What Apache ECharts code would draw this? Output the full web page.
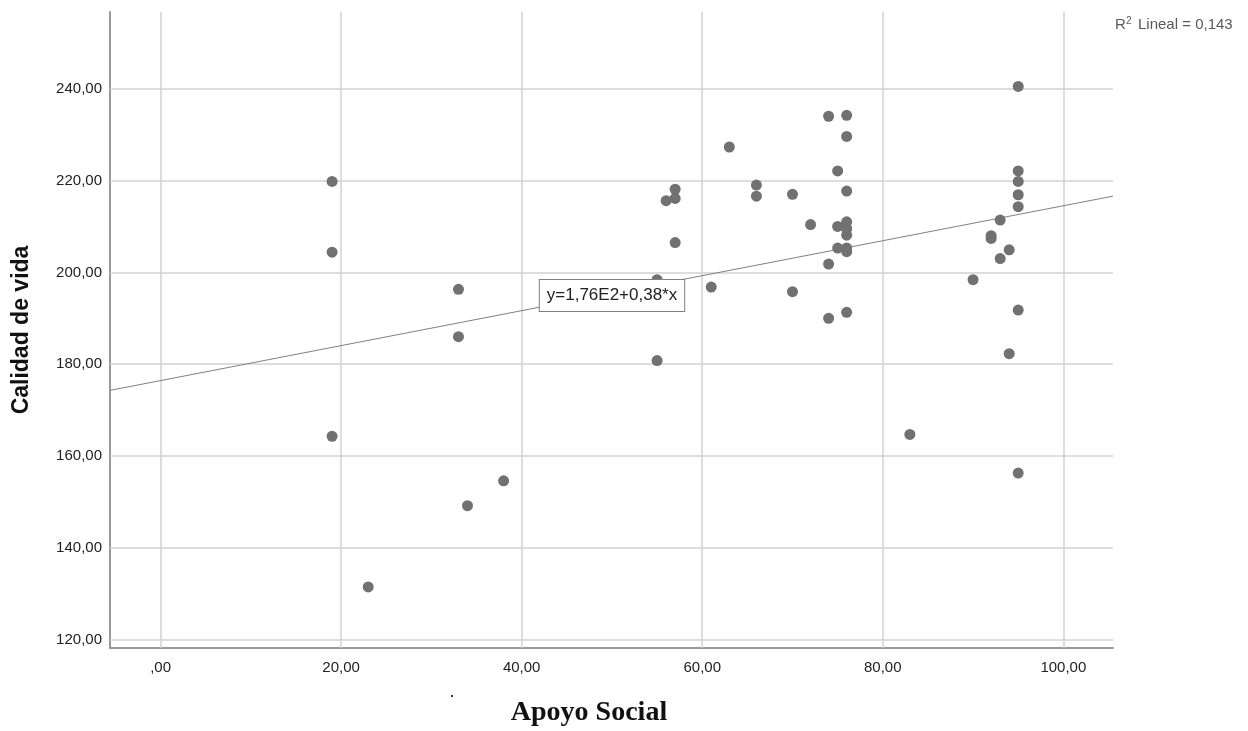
<!DOCTYPE html>
<html><head><meta charset="utf-8">
<script src="https://cdn.jsdelivr.net/npm/echarts@6/dist/echarts.min.js"></script>
<style>html,body{margin:0;padding:0;background:#fff}#c{width:1248px;height:731px}</style>
</head><body><div id="c"></div>
<script>
// Apoyo Social (x) and Calidad de vida (y)
const apoyoSocial = [19,19,19,23,33,33,34,38,
  55,55,56,57,57,57,61,63,
  66,66,70,70,72,
  74,74,74,
  75,75,75,
  76,76,76,76,76,76,76,76,76,
  83,90,92,92,93,93,94,94,
  95,95,95,95,95,95,95];
const calidadVida = [219.8,204.4,164.3,131.5,196.3,186.0,149.2,154.6,
  180.8,198.4,215.6,218.1,216.1,206.5,196.8,227.3,
  219.0,216.6,217.0,195.8,210.4,
  234.0,201.8,190.0,
  222.1,210.0,205.3,
  234.2,229.6,217.7,211.0,209.5,208.1,205.3,204.5,191.3,
  164.7,198.4,208.0,207.4,211.4,203.0,204.9,182.3,
  240.5,222.1,219.8,216.9,214.3,191.8,156.3];
// Fit line end points
const fitLineX = [-5.6, 105.5];
const fitLineY = [174.3, 216.6];
// Ticks
const xTicks = [0,20,40,60,80,100];
const xTickLabels = [',00','20,00','40,00','60,00','80,00','100,00'];
const yTicks = [120,140,160,180,200,220,240];
const yTickLabels = ['120,00','140,00','160,00','180,00','200,00','220,00','240,00'];
const xRange = [-5.6, 105.5];
const yRange = [118.2, 256.7];

const FONT = '"Liberation Sans", Arial, sans-serif';
function lab(ticks, labels){
  return function(v){
    for (let i=0;i<ticks.length;i++){ if (Math.abs(ticks[i]-v) < 1e-6) return labels[i]; }
    return '';
  };
}
const points = apoyoSocial.map((x,i)=>[x, calidadVida[i]]);
const gridColor = '#d2d2d2';

const chart = echarts.init(document.getElementById('c'), null, {renderer:'canvas'});
chart.setOption({
  animation: false,
  backgroundColor: '#fff',
  grid: {left: 110, right: 135, top: 12, bottom: 83, containLabel: false},
  xAxis: {
    type: 'value', min: xRange[0], max: xRange[1],
    axisLine: {show: true, onZero: false, lineStyle: {color: '#999', width: 2}},
    axisTick: {show: false},
    splitLine: {show: false},
    axisLabel: {customValues: xTicks, formatter: lab(xTicks, xTickLabels), margin: 12,
      color: '#222', fontSize: 15, fontFamily: FONT, showMinLabel: true, showMaxLabel: true}
  },
  yAxis: {
    type: 'value', min: yRange[0], max: yRange[1],
    axisLine: {show: true, onZero: false, lineStyle: {color: '#999', width: 2}},
    axisTick: {show: false},
    splitLine: {show: false},
    axisLabel: {customValues: yTicks, formatter: lab(yTicks, yTickLabels), margin: 8,
      padding: [4,0,0,0],
      color: '#222', fontSize: 15, fontFamily: FONT}
  },
  series: [
    {
      type: 'line', data: [], silent: true, z: 1,
      markLine: {
        silent: true, z: 1, symbol: ['none','none'], animation: false,
        label: {show: false},
        lineStyle: {color: gridColor, width: 1.5, type: 'solid'},
        emphasis: {disabled: true},
        data: xTicks.map(v=>({xAxis: v})).concat(yTicks.map(v=>({yAxis: v})))
      }
    },
    {
      type: 'line', z: 2, silent: true, symbol: 'none',
      data: fitLineX.map((x,i)=>[x, fitLineY[i]]),
      lineStyle: {color: '#808080', width: 1}
    },
    {
      type: 'scatter', z: 10, symbol: 'circle', symbolSize: 11,
      itemStyle: {color: '#717171', opacity: 1},
      data: points
    }
  ],
  graphic: [
    {type: 'text', x: 22, y: 330, rotation: Math.PI/2, z: 100,
      style: {text: 'Calidad de vida', font: 'bold 23px ' + FONT, fill: '#111', align: 'center', verticalAlign: 'middle'}},
    {type: 'text', x: 589, y: 713, z: 100,
      style: {text: 'Apoyo Social', font: 'bold 28px "Liberation Serif", "Times New Roman", serif', fill: '#111', align: 'center', verticalAlign: 'middle'}},
    {type: 'text', x: 612, y: 295.5, z: 100,
      style: {text: 'y=1,76E2+0,38*x', font: '17px ' + FONT, fill: '#222', align: 'center', verticalAlign: 'middle',
        backgroundColor: '#fff', borderColor: '#808080', borderWidth: 1, padding: [7,7]}},
    {type: 'text', x: 1115, y: 25, z: 100,
      style: {text: 'R', font: '15px ' + FONT, fill: '#595959', align: 'left', verticalAlign: 'middle'}},
    {type: 'text', x: 1126, y: 21.5, z: 100,
      style: {text: '2', font: '10px ' + FONT, fill: '#595959', align: 'left', verticalAlign: 'middle'}},
    {type: 'text', x: 1138, y: 25, z: 100,
      style: {text: 'Lineal = 0,143', font: '15px ' + FONT, fill: '#595959', align: 'left', verticalAlign: 'middle'}},
    {type: 'text', x: 452, y: 700, z: 100,
      style: {text: '.', font: 'bold 13px ' + FONT, fill: '#222', align: 'center', verticalAlign: 'bottom'}}
  ]
});
</script></body></html>
